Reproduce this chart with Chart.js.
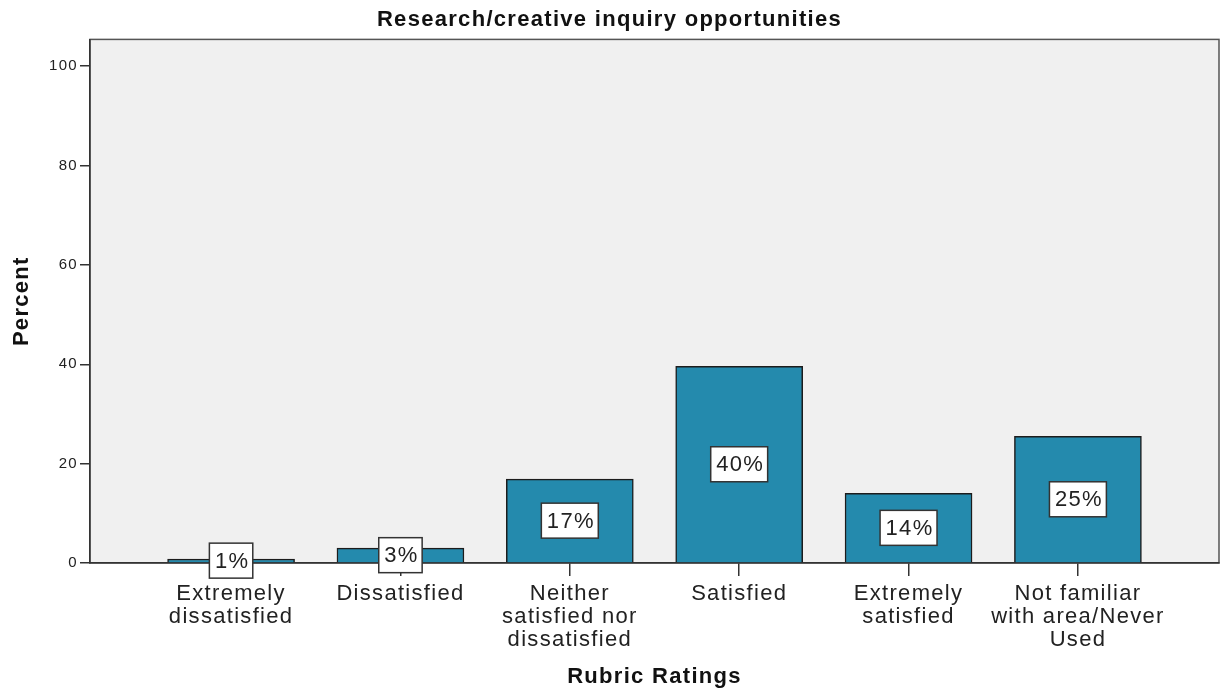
<!DOCTYPE html>
<html>
<head>
<meta charset="utf-8">
<script src="https://cdn.jsdelivr.net/npm/chart.js@4.4.0/dist/chart.umd.min.js"></script>
<style>
  html, body { margin: 0; padding: 0; background: #fff; }
  #wrap { width: 1222px; height: 690px; }
</style>
</head>
<body>
<div id="wrap"><canvas id="chart"></canvas></div>
<script>
// --- data ---
const categories = [
    ['Extremely', 'dissatisfied'],
    ['Dissatisfied'],
    ['Neither', 'satisfied nor', 'dissatisfied'],
    ['Satisfied'],
    ['Extremely', 'satisfied'],
    ['Not familiar', 'with area/Never', 'Used']
];
const percents = [0.8, 3.0, 16.9, 39.6, 14.0, 25.5];
const percentLabels = ['1%', '3%', '17%', '40%', '14%', '25%'];
const yTicks = [0, 20, 40, 60, 80, 100];

const FONT = "'Liberation Sans', Arial, sans-serif";
const SPACING = '1.3px';

// the reference text is set loosely, so widen letter spacing on the canvas
const wideText = {
    id: 'wideText',
    beforeUpdate(chart) { chart.ctx.letterSpacing = SPACING; },
    beforeLayout(chart) { chart.ctx.letterSpacing = SPACING; },
    beforeDraw(chart) { chart.ctx.letterSpacing = SPACING; }
};

// grey plot background + frame
const plotFrame = {
    id: 'plotFrame',
    beforeDraw(chart) {
        const { ctx, chartArea: a } = chart;
        ctx.save();
        ctx.fillStyle = '#f0f0f0';
        ctx.fillRect(a.left, a.top, a.right - a.left, a.bottom - a.top);
        ctx.strokeStyle = '#555';
        ctx.lineWidth = 1.5;
        ctx.strokeRect(a.left, a.top, a.right - a.left, a.bottom - a.top);
        ctx.restore();
    }
};

// boxed percent labels in the middle of each bar
const boxLabels = {
    id: 'boxLabels',
    afterDatasetsDraw(chart) {
        const ctx = chart.ctx;
        const meta = chart.getDatasetMeta(0);
        ctx.save();
        ctx.font = '22px ' + FONT;
        ctx.textAlign = 'center';
        ctx.textBaseline = 'middle';
        meta.data.forEach((bar, i) => {
            const txt = percentLabels[i];
            const cy = (bar.y + bar.base) / 2;
            const w = ctx.measureText(txt).width + 9;
            const h = 35;
            ctx.fillStyle = '#fff';
            ctx.fillRect(bar.x - w / 2, cy - h / 2, w, h);
            ctx.strokeStyle = '#333';
            ctx.lineWidth = 1.5;
            ctx.strokeRect(bar.x - w / 2, cy - h / 2, w, h);
            ctx.fillStyle = '#222';
            ctx.fillText(txt, bar.x + 1, cy + 1);
        });
        ctx.restore();
    }
};

new Chart(document.getElementById('chart'), {
    type: 'bar',
    data: {
        datasets: [{
            data: percents.map((v, i) => ({ x: i, y: v })),
            backgroundColor: '#248aad',
            borderColor: '#1c1c1c',
            borderWidth: 1.5,
            barThickness: 127
        }]
    },
    options: {
        responsive: true,
        maintainAspectRatio: false,
        animation: false,
        layout: { padding: { left: 0, right: 3, top: 0, bottom: 0 } },
        plugins: {
            legend: { display: false },
            tooltip: { enabled: false },
            title: {
                display: true,
                text: 'Research/creative inquiry opportunities',
                color: '#111',
                font: { family: FONT, size: 22, weight: 'bold', lineHeight: 1.2 },
                padding: { top: 7, bottom: 6 }
            }
        },
        scales: {
            x: {
                type: 'linear',
                offset: false,
                min: -0.833,
                max: 5.833,
                afterBuildTicks: s => { s.ticks = categories.map((c, i) => ({ value: i })); },
                afterFit: s => { s.height = 127; },
                ticks: {
                    autoSkip: false,
                    maxRotation: 0,
                    minRotation: 0,
                    padding: 6,
                    color: '#222',
                    font: { family: FONT, size: 22, lineHeight: '23px' },
                    callback: (v) => categories[v]
                },
                grid: { offset: false, drawOnChartArea: false, drawTicks: true, tickLength: 13, color: '#333', lineWidth: 1.5 },
                border: { display: true, color: '#333', width: 1.5 },
                title: {
                    display: true,
                    text: 'Rubric Ratings',
                    color: '#111',
                    font: { family: FONT, size: 22, weight: 'bold', lineHeight: 1.2 },
                    padding: { top: 0, bottom: 0 }
                }
            },
            y: {
                min: 0,
                max: 105.4,
                afterBuildTicks: s => { s.ticks = yTicks.map(v => ({ value: v })); },
                afterFit: s => { s.width = 90; },
                ticks: {
                    padding: 2,
                    color: '#222',
                    font: { family: FONT, size: 15 }
                },
                grid: { drawOnChartArea: false, drawTicks: true, tickLength: 10, color: '#333', lineWidth: 1.5 },
                border: { display: true, color: '#333', width: 1.5 },
                title: {
                    display: true,
                    text: 'Percent',
                    color: '#111',
                    font: { family: FONT, size: 22, weight: 'bold', lineHeight: 1.2 },
                    padding: { top: 9, bottom: 0 }
                }
            }
        }
    },
    plugins: [wideText, plotFrame, boxLabels]
});
</script>
</body>
</html>
